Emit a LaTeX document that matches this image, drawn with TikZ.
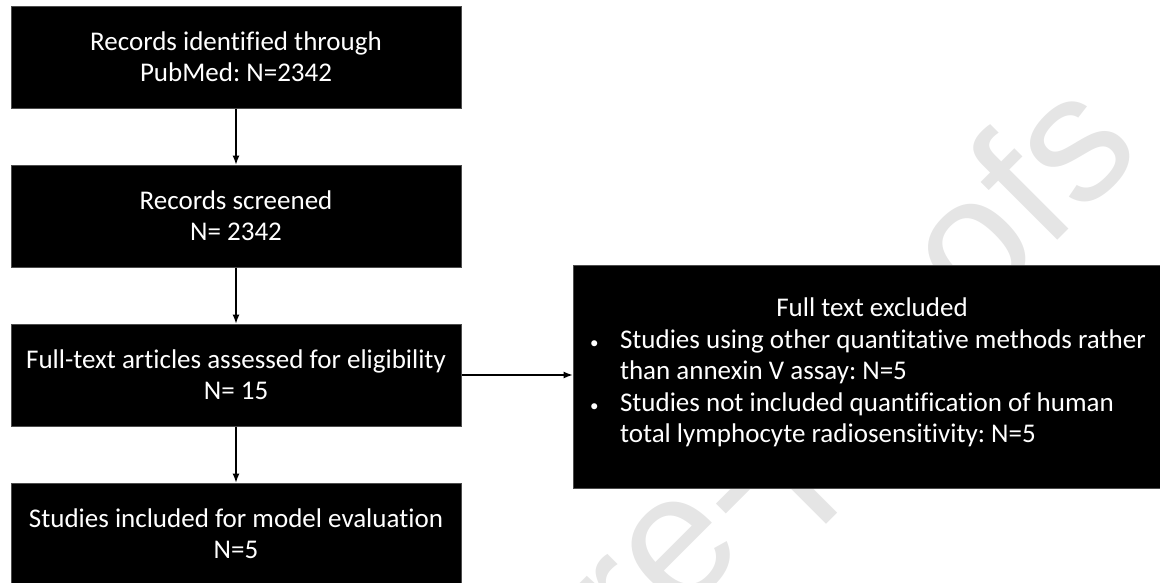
\documentclass[tikz,border=0pt]{standalone}
\usepackage{fontspec}
\setmainfont{Carlito}[Ligatures=NoCommon]
\newfontfamily\wmfont{Liberation Sans}
\usetikzlibrary{arrows.meta}
\frenchspacing
\newcommand{\exclbullet}{\makebox[33pt][l]{\hspace{3pt}\fontsize{17}{17}\selectfont\textbullet}}

\begin{document}
\begin{tikzpicture}[x=1pt, y=-1pt,
        stepbox/.style={fill=black, draw=black!70, line width=1pt, text=white,
            minimum width=450pt, minimum height=102pt, align=center,
            font=\fontsize{27}{31}\selectfont},
        exclbox/.style={fill=black, draw=black!70, line width=1pt,
            minimum width=592pt, minimum height=223pt},
        excltext/.style={text=white, inner sep=0pt, align=left,
            font=\fontsize{27}{31.5}\selectfont},
        flow/.style={-{Latex[length=9pt,width=7pt]}, line width=1.1pt}]
        \useasboundingbox (0,0) rectangle (1160,582);

        % watermark behind the boxes
        \node[rotate=45, anchor=base east, text=black!10,
            font=\wmfont\fontsize{180}{180}\selectfont] (wm) at (1148,150) {Journal Pre-proofs};

        \coordinate (P1) at (236,57);
        \coordinate (P2) at (236,216);
        \coordinate (P3) at (236,375);
        \coordinate (P4) at (236,534);
        \coordinate (P5) at (869,376.5);

        \node[stepbox] (ident) at (P1) {Records identified through\\PubMed: N=2342};
        \node[stepbox] (screen) at (P2) {Records screened\\N= 2342};
        \node[stepbox] (fulltext) at (P3) {Full-text articles assessed for eligibility\\N= 15};
        \node[stepbox] (incl) at (P4) {Studies included for model evaluation\\N=5};

        \node[exclbox] (excl) at (P5) {};
        \node[excltext] (excltext) at ([shift={(3,-4)}]P5) {\makebox[570pt][c]{Full text excluded}\\
            \exclbullet Studies using other quantitative methods rather\\
            \hspace*{33pt}than annexin V assay: N=5\\
            \exclbullet Studies not included quantification of human\\
            \hspace*{33pt}total lymphocyte radiosensitivity: N=5};

        \draw[flow] (ident) -- (screen);
        \draw[flow] (screen) -- (fulltext);
        \draw[flow] (fulltext) -- (incl);
        \draw[flow] (fulltext.east) -- (fulltext.east -| excl.west);
\end{tikzpicture}
\end{document}
